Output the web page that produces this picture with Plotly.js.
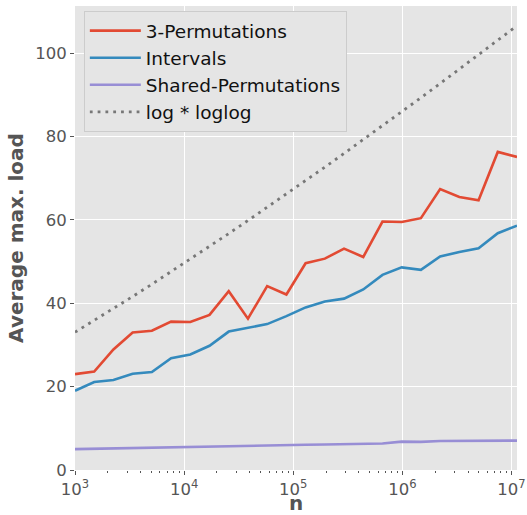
<!DOCTYPE html>
<html>
<head>
<meta charset="utf-8">
<script src="https://cdn.plot.ly/plotly-3.0.1.min.js"></script>
<style>html,body{margin:0;padding:0;background:#fff;}#chart{width:527px;height:515px;}</style>
</head>
<body>
<div id="chart"></div>
<script>
// ---- data ----
const n = [1000, 1500, 2250, 3375, 5062.5, 7593.75, 11390.6, 17085.9, 25628.9, 38443.4, 57665.0, 86497.6,
           129746, 194620, 291929, 437894, 656841, 985261, 1477892, 2216838, 3325257, 4987885, 7481828, 11222742];
const threePermutations = [23.0, 23.6, 28.9, 33.0, 33.4, 35.6, 35.5, 37.2, 42.9, 36.3, 44.1, 42.1,
                           49.6, 50.7, 53.1, 51.1, 59.6, 59.5, 60.4, 67.4, 65.5, 64.7, 76.3, 75.1];
const intervals = [19.0, 21.1, 21.6, 23.1, 23.5, 26.8, 27.7, 29.8, 33.2, 34.1, 35.0, 36.9,
                   39.0, 40.4, 41.1, 43.3, 46.8, 48.6, 48.0, 51.2, 52.3, 53.2, 56.8, 58.6];
const sharedPermutations = [5.0, 5.1, 5.2, 5.3, 5.35, 5.4, 5.5, 5.6, 5.75, 5.85, 5.9, 6.0,
                            6.05, 6.1, 6.15, 6.2, 6.35, 6.8, 6.75, 6.95, 7.0, 7.0, 7.0, 7.05];
const logLoglog = [33.06, 35.87, 38.72, 41.62, 44.56, 47.55, 50.57, 53.62, 56.71, 59.84, 62.99, 66.19,
                   69.40, 72.65, 75.93, 79.23, 82.56, 85.91, 89.30, 92.71, 96.13, 99.59, 103.05, 106.56];
const seriesNames = ["3-Permutations", "Intervals", "Shared-Permutations", "log * loglog"];
const xTickVals = [1e3, 1e4, 1e5, 1e6, 1e7];
const xTickText = ["10<sup>3</sup>", "10<sup>4</sup>", "10<sup>5</sup>", "10<sup>6</sup>", "10<sup>7</sup>"];
const xMinorVals = [2e3,3e3,4e3,5e3,6e3,7e3,8e3,9e3, 2e4,3e4,4e4,5e4,6e4,7e4,8e4,9e4,
                    2e5,3e5,4e5,5e5,6e5,7e5,8e5,9e5, 2e6,3e6,4e6,5e6,6e6,7e6,8e6,9e6];
const yTickVals = [0, 20, 40, 60, 80, 100];
const xTitle = "n";
const yTitle = "Average max. load";

const colors = ["#E24A33", "#348ABD", "#988ED5", "#777777"];
const ys = [threePermutations, intervals, sharedPermutations, logLoglog];

const traces = ys.map((y, i) => ({
  x: n, y: y, type: "scatter", mode: "lines", name: seriesNames[i],
  line: i === 3 ? {color: colors[i], width: 2.8, dash: "2.8px,5px"} : {color: colors[i], width: 2.6}
}));

const tickFont = {family: "DejaVu Sans", size: 16.5, color: "#555555"};
const titleFont = {family: "DejaVu Sans", size: 20, color: "#555555", weight: "bold"};

const layout = {
  width: 527, height: 515,
  margin: {l: 75, r: 10, t: 6, b: 45, pad: 0},
  paper_bgcolor: "#ffffff",
  plot_bgcolor: "#E5E5E5",
  showlegend: true,
  legend: {
    x: 0.02, y: 0.989, xanchor: "left", yanchor: "top",
    bgcolor: "#E5E5E5", bordercolor: "#CCCCCC", borderwidth: 1,
    font: {family: "DejaVu Sans", size: 18.5, color: "#111111"},
    itemwidth: 51
  },
  xaxis: {
    type: "log",
    range: [3, Math.log10(n[n.length - 1])],
    tickvals: xTickVals, ticktext: xTickText,
    ticks: "outside", ticklen: 4, tickwidth: 1, tickcolor: "#555555",
    tickfont: tickFont,
    showgrid: true, gridcolor: "#ffffff", gridwidth: 1,
    zeroline: false, showline: false,
    minor: {tickmode: "array", tickvals: xMinorVals, ticks: "outside", ticklen: 2, tickwidth: 1, tickcolor: "#555555", showgrid: false},
    title: {text: xTitle, font: titleFont, standoff: 12}
  },
  yaxis: {
    range: [0, 111.3],
    tickvals: yTickVals,
    ticks: "outside", ticklen: 4, tickwidth: 1, tickcolor: "#555555",
    tickfont: tickFont,
    showgrid: true, gridcolor: "#ffffff", gridwidth: 1,
    zeroline: false, showline: false,
    title: {text: yTitle, font: titleFont, standoff: 6}
  }
};

Plotly.newPlot("chart", traces, layout, {displayModeBar: false, staticPlot: true});
</script>
</body>
</html>
